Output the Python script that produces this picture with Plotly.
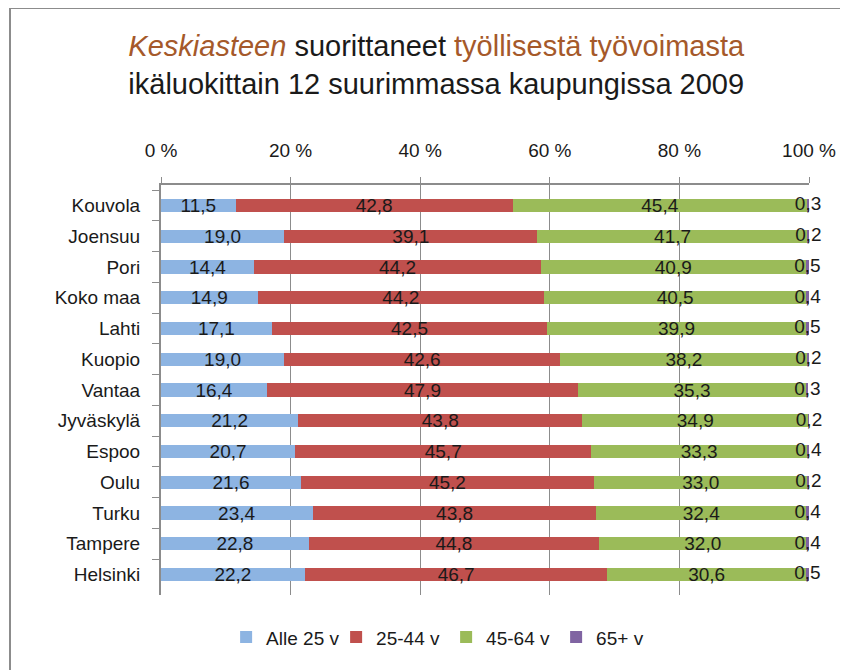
import plotly.graph_objects as go

cities = ["Kouvola", "Joensuu", "Pori", "Koko maa", "Lahti", "Kuopio", "Vantaa",
          "Jyväskylä", "Espoo", "Oulu", "Turku", "Tampere", "Helsinki"]
alle25 = [11.5, 19.0, 14.4, 14.9, 17.1, 19.0, 16.4, 21.2, 20.7, 21.6, 23.4, 22.8, 22.2]
v25_44 = [42.8, 39.1, 44.2, 44.2, 42.5, 42.6, 47.9, 43.8, 45.7, 45.2, 43.8, 44.8, 46.7]
v45_64 = [45.4, 41.7, 40.9, 40.5, 39.9, 38.2, 35.3, 34.9, 33.3, 33.0, 32.4, 32.0, 30.6]
v65 = [0.3, 0.2, 0.5, 0.4, 0.5, 0.2, 0.3, 0.2, 0.4, 0.2, 0.4, 0.4, 0.5]
series_names = ["Alle 25 v", "25-44 v", "45-64 v", "65+ v"]
colors = ["#8DB4E2", "#C0504D", "#9BBB59", "#8064A2"]
tick_vals = [0, 20, 40, 60, 80, 100]
tick_text = ["0 %", "20 %", "40 %", "60 %", "80 %", "100 %"]

FONT = "Liberation Sans, Arial, sans-serif"
TXT = "#1a1a1a"
GRID = "#8C8C8C"

L, R, T, B = 153, 47, 177, 83
PW, PH = 848 - L - R, 670 - T - B

def fmt(v):
    return f"{v:.1f}".replace(".", ",")

fig = go.Figure()
all_series = [alle25, v25_44, v45_64, v65]
for i, (name, vals, col) in enumerate(zip(series_names, all_series, colors)):
    last = i == 3
    fig.add_trace(go.Bar(
        y=cities, x=vals, name=name, orientation="h",
        marker=dict(color=col, line=dict(width=0)),
        text=None if last else [fmt(v) for v in vals],
        textposition="none" if last else "inside",
        insidetextanchor="middle", textangle=0,
        textfont=dict(size=19, color=TXT, family=FONT),
        constraintext="none",
    ))

# labels of the tiny 65+ segments, placed at the segment centres
cum3 = [a + b + c for a, b, c in zip(alle25, v25_44, v45_64)]
fig.add_trace(go.Scatter(
    y=cities, x=[c + v / 2 for c, v in zip(cum3, v65)], mode="text",
    text=[fmt(v) for v in v65], textposition="middle center",
    textfont=dict(size=19, color=TXT, family=FONT),
    showlegend=False, hoverinfo="skip", cliponaxis=False,
))

brown = "#A5592A"
title = (f"<i><span style='color:{brown}'>Keskiasteen</span></i> suorittaneet "
         f"<span style='color:{brown}'>työllisestä työvoimasta</span><br>"
         "ikäluokittain 12 suurimmassa kaupungissa 2009")

fig.update_layout(
    barmode="stack",
    bargap=0.57,
    width=848, height=670,
    margin=dict(l=L, r=R, t=T, b=B),
    paper_bgcolor="white", plot_bgcolor="white",
    font=dict(family=FONT, size=19, color=TXT),
    uniformtext=dict(minsize=19, mode="show"),
    title=dict(text=title, x=0.505, xanchor="center", y=0.928, yanchor="top",
               font=dict(size=29, family=FONT, color=TXT)),
    legend=dict(orientation="h", x=0.44, xanchor="center", y=-0.103, yanchor="middle",
                font=dict(size=19, family=FONT), traceorder="normal",
                itemwidth=30, entrywidth=65, entrywidthmode="pixels"),
    showlegend=True,
)
fig.update_xaxes(
    side="top", range=[0, 100], tickvals=tick_vals, ticktext=tick_text,
    showgrid=True, gridcolor=GRID, gridwidth=1,
    showline=True, linecolor=GRID, linewidth=2,
    ticks="outside", ticklen=6, tickcolor=GRID, ticklabelstandoff=12,
    tickfont=dict(size=19, family=FONT), zeroline=False, automargin=False,
)
fig.update_yaxes(
    autorange="reversed", categoryorder="array", categoryarray=cities,
    showline=True, linecolor=GRID, linewidth=2,
    ticks="outside", ticklen=7, tickcolor=GRID, tickson="boundaries",
    ticklabelstandoff=15,
    tickfont=dict(size=19, family=FONT), showgrid=False, automargin=False,
)
# chart-area frame (left and top edges visible in the reference)
fig.add_shape(type="line", xref="paper", yref="paper",
              x0=(2 - L) / PW, x1=(848 - L) / PW,
              y0=(T + PH) / PH, y1=(T + PH) / PH,
              line=dict(color=GRID, width=2))
fig.add_shape(type="line", xref="paper", yref="paper",
              x0=(2 - L) / PW, x1=(2 - L) / PW,
              y0=(T + PH) / PH, y1=-B / PH,
              line=dict(color=GRID, width=2))

fig.write_html("out.html")
